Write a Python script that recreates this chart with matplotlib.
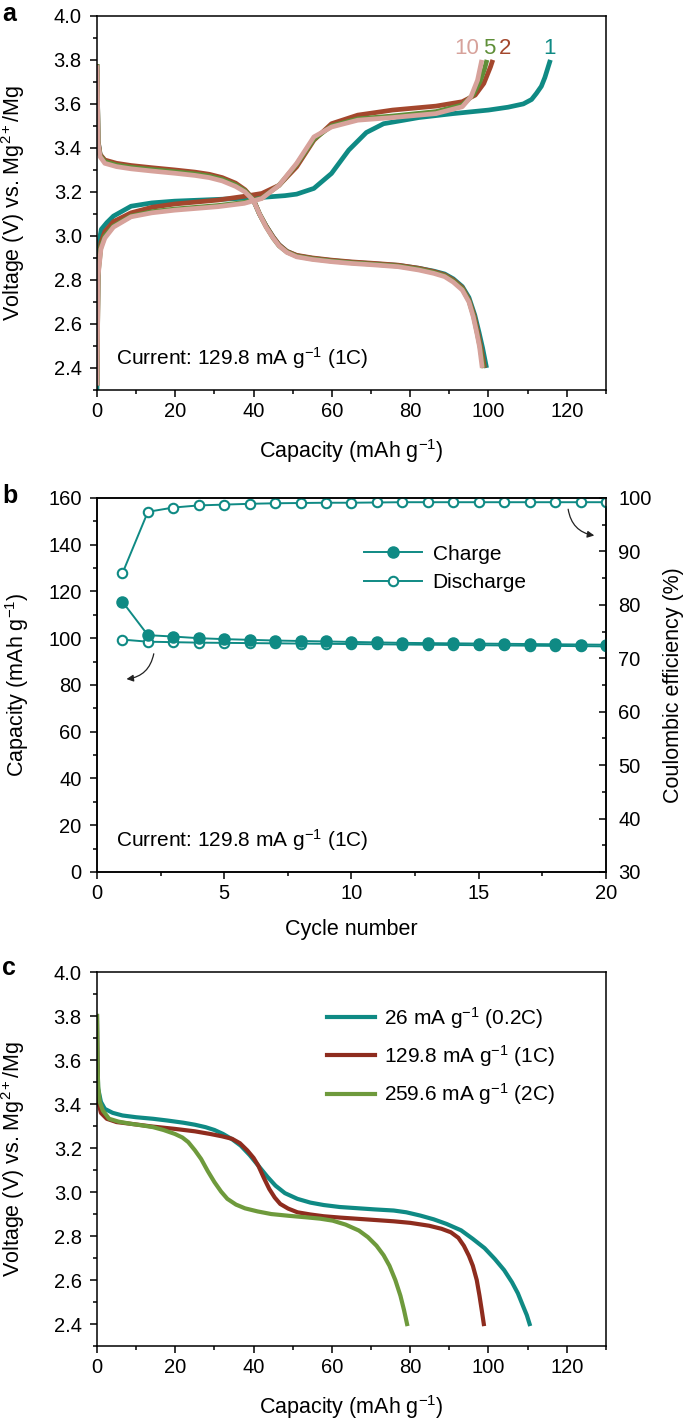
import matplotlib
matplotlib.use("Agg")
import matplotlib.pyplot as plt
from matplotlib.ticker import MultipleLocator

plt.rcParams['font.family'] = ['Liberation Sans', 'DejaVu Sans']
plt.rcParams['mathtext.fontset'] = 'custom'
plt.rcParams['mathtext.rm'] = 'Liberation Sans'
plt.rcParams['mathtext.it'] = 'Liberation Sans'
plt.rcParams['mathtext.default'] = 'regular'

# ---------------- Panel a data ----------------
cyc1_chg_cap = [0, 0.3, 1.1, 2.5, 4.2, 8.7, 14, 19.8, 30.9, 42.1, 48, 51, 55.4, 59.9, 64.3, 68.8, 73.2, 82.2, 91, 100, 105, 108.9, 111, 112.2, 113.5, 114.4, 115.8]
cyc1_chg_v = [2.30, 2.95, 3.03, 3.06, 3.09, 3.135, 3.15, 3.158, 3.166, 3.175, 3.183, 3.19, 3.216, 3.284, 3.39, 3.47, 3.51, 3.538, 3.556, 3.572, 3.585, 3.60, 3.62, 3.647, 3.68, 3.72, 3.80]
cyc2_chg_cap = [0, 0.3, 1, 2, 4.2, 8.7, 14, 19.8, 30.9, 37.6, 42.1, 46.5, 51, 55.4, 59.9, 66.6, 75.5, 86.6, 93.3, 96.6, 98.8, 100.5, 101.1]
cyc2_chg_v = [2.32, 2.85, 2.97, 3.02, 3.065, 3.105, 3.13, 3.145, 3.163, 3.18, 3.193, 3.23, 3.314, 3.435, 3.51, 3.549, 3.572, 3.59, 3.61, 3.64, 3.693, 3.768, 3.80]
cyc5_chg_cap = [0, 0.3, 1, 2, 4.2, 8.7, 14, 19.8, 30.9, 37.6, 42.1, 46.5, 51, 55.4, 59.9, 66.6, 75.5, 86.6, 93.3, 96, 97.8, 99, 99.6]
cyc5_chg_v = [2.32, 2.83, 2.95, 3.0, 3.045, 3.09, 3.11, 3.122, 3.138, 3.152, 3.172, 3.23, 3.325, 3.44, 3.5, 3.532, 3.545, 3.565, 3.595, 3.64, 3.70, 3.76, 3.80]
cyc10_chg_cap = [0, 0.3, 1, 2, 4.2, 8.7, 14, 19.8, 30.9, 37.6, 42.1, 46.5, 51, 55.4, 59.9, 66.6, 75.5, 86.6, 93.3, 95.5, 97.2, 98.3]
cyc10_chg_v = [2.32, 2.82, 2.94, 2.99, 3.04, 3.087, 3.105, 3.117, 3.133, 3.148, 3.17, 3.23, 3.33, 3.45, 3.495, 3.526, 3.538, 3.556, 3.587, 3.632, 3.708, 3.80]

cyc1_dis_cap = [0, 0.15, 0.3, 0.8, 2, 5, 8.7, 14, 19.8, 25, 28.7, 32, 35.4, 37.8, 39.9, 41.5, 43.2, 45, 46.5, 48.5, 51, 55, 59.9, 65, 71, 77, 82.2, 86, 88.8, 91, 93.3, 95, 96.5, 97.6, 98.5, 99.5]
cyc1_dis_v = [3.78, 3.6, 3.43, 3.37, 3.34, 3.325, 3.315, 3.305, 3.295, 3.285, 3.275, 3.26, 3.235, 3.205, 3.165, 3.10, 3.045, 2.995, 2.96, 2.93, 2.91, 2.898, 2.888, 2.880, 2.873, 2.866, 2.853, 2.84, 2.827, 2.805, 2.77, 2.72, 2.64, 2.56, 2.49, 2.40]
cyc2_dis_cap = [0, 0.15, 0.3, 0.8, 2, 5, 8.7, 14, 19.8, 25, 28.7, 32, 35.4, 37.8, 39.9, 41.5, 43.2, 45, 46.5, 48.5, 51, 55, 59.9, 65, 71, 77, 82.2, 86, 88.8, 91, 93.3, 95, 96.3, 97.3, 98.1, 99.0]
cyc2_dis_v = [3.78, 3.6, 3.43, 3.37, 3.345, 3.33, 3.32, 3.31, 3.30, 3.29, 3.28, 3.265, 3.24, 3.21, 3.168, 3.10, 3.045, 2.995, 2.96, 2.93, 2.912, 2.9, 2.89, 2.882, 2.875, 2.867, 2.853, 2.838, 2.823, 2.80, 2.765, 2.71, 2.64, 2.56, 2.49, 2.40]
cyc5_dis_cap = [0, 0.15, 0.3, 0.8, 2, 5, 8.7, 14, 19.8, 25, 28.7, 32, 35.4, 37.8, 39.9, 41.5, 43.2, 45, 46.5, 48.5, 51, 55, 59.9, 65, 71, 77, 82.2, 86, 88.8, 91, 93.3, 95, 96.2, 97.1, 97.9, 98.7]
cyc5_dis_v = [3.78, 3.6, 3.42, 3.365, 3.338, 3.322, 3.312, 3.302, 3.292, 3.282, 3.272, 3.257, 3.232, 3.205, 3.165, 3.10, 3.042, 2.99, 2.955, 2.927, 2.908, 2.896, 2.886, 2.878, 2.871, 2.863, 2.849, 2.834, 2.819, 2.795, 2.76, 2.705, 2.635, 2.56, 2.49, 2.40]
cyc10_dis_cap = [0, 0.15, 0.3, 0.8, 2, 5, 8.7, 14, 19.8, 25, 28.7, 32, 35.4, 37.8, 39.9, 41.5, 43.2, 45, 46.5, 48.5, 51, 55, 59.9, 65, 71, 77, 82.2, 86, 88.8, 91, 93.3, 95, 96.1, 97.0, 97.7, 98.4]
cyc10_dis_v = [3.776, 3.6, 3.42, 3.36, 3.33, 3.315, 3.305, 3.295, 3.285, 3.275, 3.265, 3.25, 3.225, 3.2, 3.163, 3.10, 3.04, 2.99, 2.955, 2.925, 2.905, 2.893, 2.883, 2.875, 2.868, 2.86, 2.845, 2.83, 2.815, 2.79, 2.754, 2.70, 2.633, 2.56, 2.497, 2.40]

cycle_labels = ["1", "2", "5", "10"]
cycle_label_x = [115.6, 104.2, 100.2, 94.5]

# ---------------- Panel b data ----------------
cycles = list(range(1, 21))
charge_cap = [115.6, 101.3, 100.7, 100.0, 99.6, 99.3, 99.0, 98.8, 98.6, 98.4, 98.2, 98.0, 97.9, 97.8, 97.7, 97.6, 97.5, 97.4, 97.3, 97.2]
discharge_cap = [99.4, 98.5, 98.3, 98.1, 98.0, 97.9, 97.8, 97.7, 97.6, 97.5, 97.4, 97.3, 97.2, 97.1, 97.0, 96.9, 96.8, 96.7, 96.6, 96.5]
coulombic_eff = [85.9, 97.4, 98.2, 98.6, 98.75, 98.9, 99.0, 99.05, 99.1, 99.1, 99.15, 99.2, 99.2, 99.2, 99.2, 99.2, 99.2, 99.2, 99.2, 99.2]

# ---------------- Panel c data ----------------
rate_labels = [r"26 mA g$^{-1}$ (0.2C)", r"129.8 mA g$^{-1}$ (1C)", r"259.6 mA g$^{-1}$ (2C)"]
c02_cap = [0, 0.1, 0.3, 1, 2, 4, 6.5, 10, 14.3, 18, 22.1, 25, 27.7, 30, 32.2, 34.5, 36.7, 39, 41.2, 43.5, 45.6, 48, 51.2, 54.5, 57.9, 62, 66.9, 71, 75.8, 79, 82.6, 86, 89.3, 93, 96, 99, 101.6, 104, 106, 107.5, 108.8, 109.8, 110.5]
c02_v = [3.80, 3.60, 3.47, 3.41, 3.378, 3.36, 3.348, 3.34, 3.333, 3.325, 3.315, 3.306, 3.295, 3.282, 3.264, 3.24, 3.211, 3.168, 3.12, 3.07, 3.029, 2.995, 2.969, 2.952, 2.941, 2.932, 2.926, 2.921, 2.916, 2.908, 2.893, 2.876, 2.855, 2.826, 2.787, 2.745, 2.696, 2.645, 2.59, 2.54, 2.483, 2.44, 2.40]
c1_cap = [0, 0.1, 0.3, 1, 2.5, 5, 8.7, 14, 19.9, 25, 28.9, 32, 34.5, 36.5, 38.4, 40, 41.2, 42.6, 44, 45.4, 46.8, 48.8, 51.2, 54.5, 57.9, 62, 66.9, 71, 75.8, 80, 84.8, 88, 90.4, 92.3, 93.7, 95, 96, 97, 97.7, 98.3, 98.8]
c1_v = [3.80, 3.60, 3.41, 3.36, 3.333, 3.318, 3.31, 3.298, 3.287, 3.276, 3.264, 3.253, 3.242, 3.222, 3.189, 3.155, 3.12, 3.065, 3.014, 2.975, 2.946, 2.925, 2.908, 2.898, 2.89, 2.884, 2.878, 2.873, 2.867, 2.86, 2.847, 2.833, 2.817, 2.792, 2.756, 2.71, 2.665, 2.6, 2.529, 2.46, 2.40]
c2_cap = [0, 0.1, 0.3, 0.7, 1.5, 3.1, 5.5, 8.7, 11.5, 14.3, 17, 19.9, 21.8, 23.3, 25, 26.6, 28.3, 30, 31.7, 33.3, 35.5, 37.8, 41, 44.5, 49, 53.5, 57, 60.2, 63.5, 66.9, 69.2, 71.4, 73.2, 74.7, 76.2, 77.5, 78.4, 79.2]
c2_v = [3.80, 3.60, 3.48, 3.41, 3.37, 3.333, 3.32, 3.31, 3.303, 3.295, 3.282, 3.264, 3.248, 3.227, 3.19, 3.15, 3.095, 3.045, 3.002, 2.969, 2.943, 2.926, 2.912, 2.9, 2.892, 2.885, 2.879, 2.87, 2.852, 2.825, 2.795, 2.756, 2.713, 2.665, 2.6, 2.529, 2.465, 2.40]

# ---------------- styling ----------------
TEAL = '#0f8a84'
BROWN = '#a4472d'
GREEN = '#5f8f38'
PINK = '#d7a29b'
RED_C = '#8e2c1e'
GREEN_C = '#6e9a3c'
FS_TICK = 14.5
FS_LAB = 15.5
FS = 15

fig = plt.figure(figsize=(6.85, 14.19), dpi=100)
ax_a = fig.add_axes([0.1416, 0.7252, 0.743, 0.2636])
ax_b = fig.add_axes([0.1416, 0.3855, 0.743, 0.2636])
ax_c = fig.add_axes([0.1416, 0.0514, 0.743, 0.2636])


def style_axis(ax):
    for s in ax.spines.values():
        s.set_linewidth(1.1)
    ax.tick_params(which='both', direction='out', labelsize=FS_TICK, width=1.1,
                   top=False, right=False)
    ax.tick_params(which='major', length=5)
    ax.tick_params(which='minor', length=3)
    ax.tick_params(axis='y', which='major', pad=6)


def place_labels(ax, ylab_x=-0.137):
    ax.xaxis.set_label_coords(0.5, -0.125)
    ax.yaxis.set_label_coords(ylab_x, 0.5)


# ----- Panel a -----
lw_a = 3.4
kw = dict(lw=lw_a, solid_joinstyle='round', solid_capstyle='butt')
ax_a.plot(cyc1_chg_cap, cyc1_chg_v, color=TEAL, **kw)
ax_a.plot(cyc1_dis_cap, cyc1_dis_v, color=TEAL, **kw)
ax_a.plot(cyc2_chg_cap, cyc2_chg_v, color=BROWN, **kw)
ax_a.plot(cyc2_dis_cap, cyc2_dis_v, color=BROWN, **kw)
ax_a.plot(cyc5_chg_cap, cyc5_chg_v, color=GREEN, **kw)
ax_a.plot(cyc5_dis_cap, cyc5_dis_v, color=GREEN, **kw)
ax_a.plot(cyc10_chg_cap, cyc10_chg_v, color=PINK, **kw)
ax_a.plot(cyc10_dis_cap, cyc10_dis_v, color=PINK, **kw)
for lab, xx, col in zip(cycle_labels, cycle_label_x, [TEAL, BROWN, GREEN, PINK]):
    ax_a.text(xx, 3.85, lab, color=col, fontsize=16, ha='center', va='center')

ax_a.set_xlim(0, 130)
ax_a.set_ylim(2.3, 4.0)
ax_a.xaxis.set_major_locator(MultipleLocator(20))
ax_a.xaxis.set_minor_locator(MultipleLocator(10))
ax_a.set_yticks([2.4, 2.6, 2.8, 3.0, 3.2, 3.4, 3.6, 3.8, 4.0])
ax_a.set_yticklabels(['2.4', '2.6', '2.8', '3.0', '3.2', '3.4', '3.6', '3.8', '4.0'])
ax_a.yaxis.set_minor_locator(MultipleLocator(0.1))
style_axis(ax_a)
ax_a.set_xlabel(r"Capacity (mAh g$^{-1}$)", fontsize=FS_LAB)
ax_a.set_ylabel(r"Voltage (V) vs. Mg$^{2+}$/Mg", fontsize=FS_LAB)
place_labels(ax_a)
ax_a.text(0.037, 0.05, r"Current: 129.8 mA g$^{-1}$ (1C)", transform=ax_a.transAxes,
          fontsize=FS, ha='left', va='bottom')

# ----- Panel b -----
ax_b2 = ax_b.twinx()
ax_b.plot(cycles, discharge_cap, color=TEAL, lw=1.4, marker='o', ms=6.8,
          mfc='white', mec=TEAL, mew=1.5, label='Discharge', zorder=3)
ax_b.plot(cycles, charge_cap, color=TEAL, lw=1.4, marker='o', ms=7.8,
          mfc=TEAL, mec=TEAL, mew=1.2, label='Charge', zorder=4)
ax_b2.plot(cycles, coulombic_eff, color=TEAL, lw=1.4, marker='o', ms=6.8,
           mfc='white', mec=TEAL, mew=1.5)
ax_b.set_xlim(0, 20)
ax_b.set_ylim(0, 160)
ax_b2.set_ylim(30, 100)
ax_b.xaxis.set_major_locator(MultipleLocator(5))
ax_b.xaxis.set_minor_locator(MultipleLocator(2.5))
ax_b.yaxis.set_major_locator(MultipleLocator(20))
ax_b.yaxis.set_minor_locator(MultipleLocator(10))
ax_b2.yaxis.set_major_locator(MultipleLocator(10))
ax_b2.yaxis.set_minor_locator(MultipleLocator(5))
style_axis(ax_b)
for s in ax_b2.spines.values():
    s.set_linewidth(1.1)
ax_b2.tick_params(which='both', direction='in', labelsize=FS_TICK, width=1.1)
ax_b2.tick_params(which='major', length=5, pad=9)
ax_b2.tick_params(which='minor', length=3)
ax_b.set_xlabel("Cycle number", fontsize=FS_LAB)
ax_b.set_ylabel(r"Capacity (mAh g$^{-1}$)", fontsize=FS_LAB)
place_labels(ax_b, ylab_x=-0.129)
ax_b2.set_ylabel("Coulombic efficiency (%)", fontsize=FS_LAB)
ax_b2.yaxis.set_label_coords(1.112, 0.5)
ax_b.text(0.037, 0.05, r"Current: 129.8 mA g$^{-1}$ (1C)", transform=ax_b.transAxes,
          fontsize=FS, ha='left', va='bottom')
h, l = ax_b.get_legend_handles_labels()
ax_b.legend([h[1], h[0]], [l[1], l[0]], loc='upper left', bbox_to_anchor=(0.508, 0.897),
            frameon=False, fontsize=FS, handlelength=2.8, handletextpad=0.5,
            labelspacing=0.45, borderaxespad=0)
ax_b2.annotate('', xy=(19.65, 92.9), xytext=(18.5, 98.4),
               arrowprops=dict(arrowstyle='-|>', color='#222222', lw=0.9,
                               connectionstyle='arc3,rad=0.4', mutation_scale=10))
ax_b.annotate('', xy=(1.05, 82.4), xytext=(2.25, 94.5),
              arrowprops=dict(arrowstyle='-|>', color='#222222', lw=0.9,
                              connectionstyle='arc3,rad=-0.4', mutation_scale=10))

# ----- Panel c -----
lw_c = 3.0
ax_c.plot(c02_cap, c02_v, color=TEAL, lw=lw_c, label=rate_labels[0], solid_joinstyle='round')
ax_c.plot(c1_cap, c1_v, color=RED_C, lw=lw_c, label=rate_labels[1], solid_joinstyle='round')
ax_c.plot(c2_cap, c2_v, color=GREEN_C, lw=lw_c, label=rate_labels[2], solid_joinstyle='round')
ax_c.set_xlim(0, 130)
ax_c.set_ylim(2.3, 4.0)
ax_c.xaxis.set_major_locator(MultipleLocator(20))
ax_c.xaxis.set_minor_locator(MultipleLocator(10))
ax_c.set_yticks([2.4, 2.6, 2.8, 3.0, 3.2, 3.4, 3.6, 3.8, 4.0])
ax_c.set_yticklabels(['2.4', '2.6', '2.8', '3.0', '3.2', '3.4', '3.6', '3.8', '4.0'])
ax_c.yaxis.set_minor_locator(MultipleLocator(0.1))
style_axis(ax_c)
ax_c.set_xlabel(r"Capacity (mAh g$^{-1}$)", fontsize=FS_LAB)
ax_c.set_ylabel(r"Voltage (V) vs. Mg$^{2+}$/Mg", fontsize=FS_LAB)
place_labels(ax_c)
ax_c.legend(loc='upper left', bbox_to_anchor=(0.435, 0.935), frameon=False, fontsize=FS,
            handlelength=2.3, handletextpad=0.45, labelspacing=0.6, borderaxespad=0)

# panel letters
fig.text(0.003, 0.9985, 'a', fontsize=18, fontweight='bold', ha='left', va='top')
for lett, yy in zip(['b', 'c'], [0.6455, 0.3129]):
    fig.text(0.003, yy, lett, fontsize=18, fontweight='bold', ha='left', va='baseline')

fig.savefig('out.png', dpi=100)
